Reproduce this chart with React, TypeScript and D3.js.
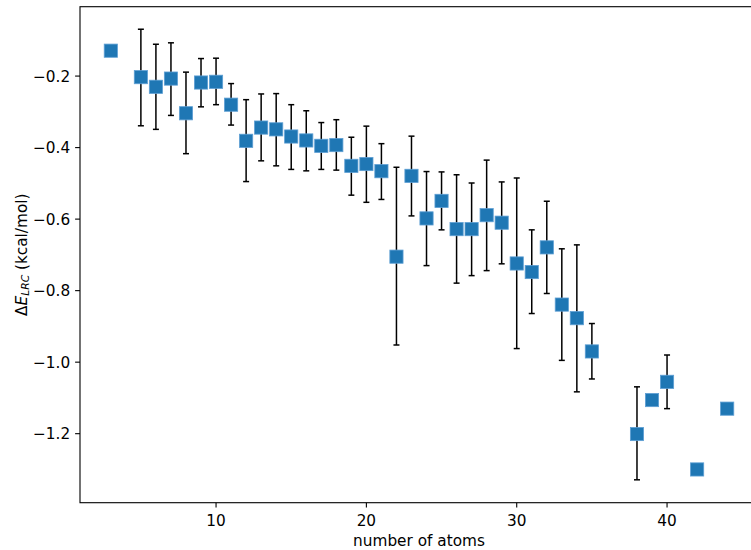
import React from "react";
import * as d3 from "d3";

const atoms = [3, 5, 6, 7, 8, 9, 10, 11, 12, 13, 14, 15, 16, 17, 18, 19, 20, 21, 22, 23, 24, 25, 26, 27, 28, 29, 30, 31, 32, 33, 34, 35, 38, 39, 40, 42, 44];
const dE = [-0.129, -0.203, -0.230, -0.207, -0.304, -0.218, -0.216, -0.280, -0.381, -0.344, -0.349, -0.369, -0.380, -0.395, -0.393, -0.451, -0.446, -0.466, -0.705, -0.479, -0.598, -0.549, -0.628, -0.628, -0.589, -0.610, -0.724, -0.748, -0.679, -0.839, -0.877, -0.970, -1.201, -1.106, -1.055, -1.300, -1.130];
const errUpper: (number | null)[] = [null, -0.069, -0.111, -0.107, -0.189, -0.151, -0.150, -0.221, -0.266, -0.250, -0.249, -0.280, -0.297, -0.330, -0.322, -0.371, -0.340, -0.389, -0.455, -0.368, -0.467, -0.468, -0.476, -0.499, -0.435, -0.496, -0.485, -0.630, -0.550, -0.683, -0.672, -0.892, -1.069, null, -0.980, null, null];
const errLower: (number | null)[] = [null, -0.339, -0.349, -0.310, -0.417, -0.286, -0.280, -0.337, -0.495, -0.437, -0.451, -0.461, -0.465, -0.461, -0.463, -0.533, -0.553, -0.545, -0.952, -0.591, -0.730, -0.630, -0.779, -0.758, -0.744, -0.725, -0.962, -0.864, -0.808, -0.995, -1.083, -1.047, -1.329, null, -1.130, null, null];
const xTicks = [10, 20, 30, 40];
const yTicks = [-0.2, -0.4, -0.6, -0.8, -1.0, -1.2];

const W = 751;
const H = 550;
const left = 80;
const right = 758;
const top = 6.7;
const bottom = 502.7;
const FONT = "DejaVu Sans, sans-serif";
const FS = 15.3;

export default function App() {
  const x = d3.scaleLinear().domain([0.95, 46.05]).range([left, right]);
  const y = d3.scaleLinear().domain([-1.393, -0.006]).range([bottom, top]);
  const fmt = (v: number) => d3.format(".1f")(v).replace("-", "\u2212");
  const ms = 13.2;
  const cap = 3;

  return (
    <svg width={W} height={H} style={{ position: "fixed", left: 0, top: 0, background: "#fff" }} fontFamily={FONT}>
      <rect x={0} y={0} width={W} height={H} fill="#fff" />
      {/* error bars */}
      <g stroke="#000" strokeWidth={1.5}>
        {atoms.map((a, i) => {
          const hi = errUpper[i];
          const lo = errLower[i];
          if (hi === null || lo === null) return null;
          const cx = x(a);
          return (
            <g key={"e" + i}>
              <line x1={cx} x2={cx} y1={y(hi)} y2={y(lo)} />
              <line x1={cx - cap} x2={cx + cap} y1={y(hi)} y2={y(hi)} />
              <line x1={cx - cap} x2={cx + cap} y1={y(lo)} y2={y(lo)} />
            </g>
          );
        })}
      </g>
      {/* markers */}
      <g>
        {atoms.map((a, i) => (
          <rect
            key={"m" + i}
            x={x(a) - ms / 2}
            y={y(dE[i]) - ms / 2}
            width={ms}
            height={ms}
            fill="#1f77b4"
            stroke="#5e9fd4"
            strokeWidth={0.8}
          />
        ))}
      </g>
      {/* frame */}
      <rect x={left} y={top} width={right - left} height={bottom - top} fill="none" stroke="#000" strokeWidth={1.1} />
      {/* x ticks */}
      {xTicks.map((t) => (
        <g key={"xt" + t}>
          <line x1={x(t)} x2={x(t)} y1={bottom} y2={bottom + 4.9} stroke="#000" strokeWidth={1.1} />
          <text x={x(t)} y={bottom + 23.5} textAnchor="middle" fontSize={FS} fill="#000">
            {t}
          </text>
        </g>
      ))}
      {/* y ticks */}
      {yTicks.map((t) => (
        <g key={"yt" + t}>
          <line x1={left - 4.9} x2={left} y1={y(t)} y2={y(t)} stroke="#000" strokeWidth={1.1} />
          <text x={left - 9.8} y={y(t)} dy="0.36em" textAnchor="end" fontSize={FS} fill="#000">
            {fmt(t)}
          </text>
        </g>
      ))}
      {/* x label */}
      <text x={(left + right) / 2 - 0} y={546} textAnchor="middle" fontSize={FS} fill="#000">
        number of atoms
      </text>
      {/* y label */}
      <text transform={`translate(26.5, ${(top + bottom) / 2}) rotate(-90)`} textAnchor="middle" fontSize={FS} fill="#000">
        <tspan>Δ</tspan>
        <tspan fontStyle="italic">E</tspan>
        <tspan fontStyle="italic" fontSize={FS * 0.7} dy={2.8}>LRC</tspan>
        <tspan dy={-2.8}> (kcal/mol)</tspan>
      </text>
    </svg>
  );
}
